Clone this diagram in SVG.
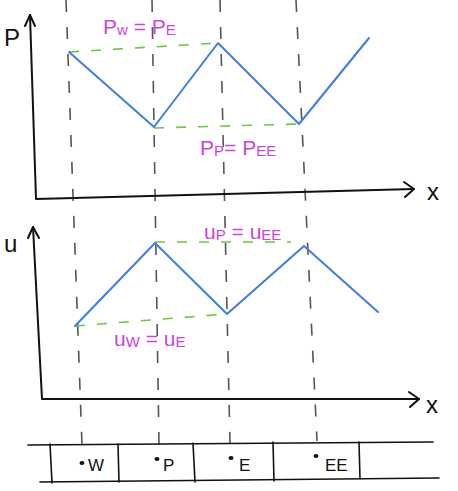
<svg xmlns="http://www.w3.org/2000/svg" width="458" height="491" viewBox="0 0 458 491">
<style>
.ax{fill:none;stroke:#111;stroke-width:2;stroke-linecap:round;stroke-linejoin:round}
.grid{fill:none;stroke:#111;stroke-width:1.6;stroke-linecap:round}
.guide{fill:none;stroke:#555;stroke-width:1.6;stroke-dasharray:12 15}
.curve{fill:none;stroke:#3a7ee8;stroke-width:2;stroke-linejoin:round;stroke-linecap:round}
.eq{fill:none;stroke:#6cc83c;stroke-width:1.6;stroke-dasharray:10 12}
.lab{font-family:"Liberation Sans",sans-serif;font-size:21px;fill:#cc44dd}
.sub{font-size:15px}
.axl{font-family:"Liberation Sans",sans-serif;font-size:24px;fill:#111}
.cell{font-family:"Liberation Sans",sans-serif;font-size:17px;fill:#111}
</style>
<g id="guides">
<line class="guide" x1="66" y1="0" x2="82" y2="445"/>
<line class="guide" x1="152" y1="0" x2="159" y2="445"/>
<line class="guide" x1="220" y1="0" x2="230" y2="443"/>
<line class="guide" x1="296" y1="0" x2="317" y2="441"/>
</g>
<g id="plot-p">
<path class="ax" d="M30 15 L36 199 L414 189"/>
<path class="ax" d="M25 26 L30 15 L35 26"/>
<path class="ax" d="M404 182 L414 189 L405 197"/>
<text class="axl" x="4" y="46">P</text>
<text class="axl" x="427" y="200">x</text>
<line class="eq" x1="69" y1="52" x2="218" y2="43"/>
<line class="eq" x1="154" y1="128" x2="299" y2="124"/>
<polyline class="curve" points="69,52 154,127 218,43 299,124 369,38"/>
<text class="lab" x="103" y="34">P<tspan class="sub" dy="1">w</tspan><tspan dy="-1"> = P</tspan><tspan class="sub" dy="1">E</tspan></text>
<text class="lab" x="200" y="155">P<tspan class="sub" dy="1">P</tspan><tspan dy="-1">= P</tspan><tspan class="sub" dy="1">EE</tspan></text>
</g>
<g id="plot-u">
<path class="ax" d="M33 227 L42 399 L419 399"/>
<path class="ax" d="M28 238 L33 227 L39 238"/>
<path class="ax" d="M409 392 L419 399 L410 407"/>
<text class="axl" x="4" y="252">u</text>
<text class="axl" x="426" y="413">x</text>
<line class="eq" x1="155" y1="242" x2="291" y2="242"/>
<line class="eq" x1="75" y1="326" x2="227" y2="314"/>
<polyline class="curve" points="75,326 155,243 227,314 304,246 378,312"/>
<text class="lab" x="204" y="239">u<tspan class="sub" dy="1">P</tspan><tspan dy="-1"> = u</tspan><tspan class="sub" dy="1">EE</tspan></text>
<text class="lab" x="114" y="346">u<tspan class="sub" dy="1">W</tspan><tspan dy="-1"> = u</tspan><tspan class="sub" dy="1">E</tspan></text>
</g>
<g id="grid">
<path class="grid" d="M28 445 L433 442"/>
<path class="grid" d="M40 482 L439 478"/>
<path class="grid" d="M50 444 L52 483 M118 444 L119 482 M193 443 L195 482 M273 442 L274 481 M359 442 L360 479"/>
</g>
<g id="node-W"><ellipse cx="82" cy="463" rx="2.5" ry="2" fill="#111"/><text class="cell" x="88" y="471">W</text></g>
<g id="node-P"><ellipse cx="157" cy="459" rx="2.5" ry="2" fill="#111"/><text class="cell" x="163" y="471">P</text></g>
<g id="node-E"><ellipse cx="231" cy="458" rx="2.5" ry="2" fill="#111"/><text class="cell" x="239" y="471">E</text></g>
<g id="node-EE"><ellipse cx="316" cy="456" rx="2.5" ry="2" fill="#111"/><text class="cell" x="325" y="471">EE</text></g>
</svg>
